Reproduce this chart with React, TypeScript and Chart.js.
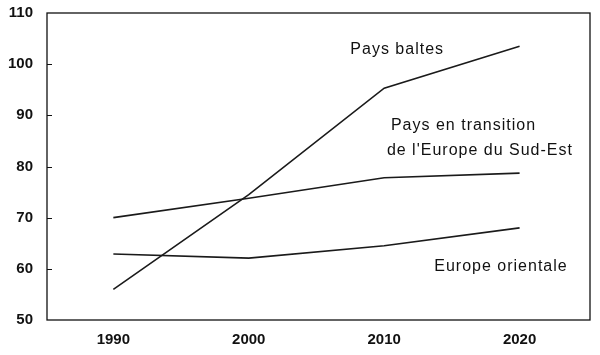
import React, { useEffect, useRef } from "react";
import { Chart, registerables } from "chart.js";

Chart.register(...registerables);

const years = [1990, 2000, 2010, 2020];
const paysBaltes = [56, 74.5, 95.3, 103.5];
const sudEst = [70, 73.8, 77.8, 78.7];
const europeOrientale = [62.9, 62.1, 64.5, 68];
const yTicks = [50, 60, 70, 80, 90, 100, 110];

// text labels placed in data coordinates: [text, x(year), y(value)]
const labelTexts = ["Pays baltes", "Pays en transition", "de l'Europe du Sud-Est", "Europe orientale"];
const labelX = [2007.5, 2010.5, 2010.2, 2013.7];
const labelY = [102.9, 87.9, 83.2, 60.4];

const FONT = "'Liberation Sans', Arial, Helvetica, sans-serif";

const decorPlugin = {
  id: "decor",
  afterDraw(chart: any) {
    const { ctx, chartArea, scales } = chart;
    const ys = scales.y;
    const xs = scales.x;
    ctx.save();
    ctx.strokeStyle = "#111";
    ctx.lineWidth = 1.3;
    ctx.strokeRect(chartArea.left, chartArea.top, chartArea.right - chartArea.left, chartArea.bottom - chartArea.top);
    // inward ticks
    ctx.lineWidth = 1;
    yTicks.forEach((v) => {
      if (v === 50 || v === 110) return;
      const py = Math.round(ys.getPixelForValue(v)) + 0.5;
      ctx.beginPath();
      ctx.moveTo(chartArea.left, py);
      ctx.lineTo(chartArea.left + 5, py);
      ctx.stroke();
    });
    // text labels
    ctx.fillStyle = "#111";
    ctx.font = `16px ${FONT}`;
    (ctx as any).letterSpacing = "1px";
    ctx.textBaseline = "middle";
    ctx.textAlign = "left";
    labelTexts.forEach((t, i) => {
      ctx.fillText(t, xs.getPixelForValue(labelX[i]), ys.getPixelForValue(labelY[i]));
    });
    (ctx as any).letterSpacing = "0px";
    ctx.restore();
  },
};

export default function App() {
  const ref = useRef<HTMLCanvasElement | null>(null);
  useEffect(() => {
    if (!ref.current) return;
    const mk = (data: number[]) => ({
      data: years.map((y, i) => ({ x: y, y: data[i] })),
      borderColor: "#1a1a1a",
      borderWidth: 1.6,
      pointRadius: 0,
      fill: false,
      tension: 0,
    });
    const chart = new Chart(ref.current, {
      type: "line",
      data: {
        datasets: [mk(paysBaltes), mk(sudEst), mk(europeOrientale)],
      },
      options: {
        animation: false,
        responsive: true,
        maintainAspectRatio: false,
        layout: { padding: { left: 0, right: 10, top: 13, bottom: 0 } },
        plugins: { legend: { display: false }, tooltip: { enabled: false } },
        scales: {
          x: {
            type: "linear",
            min: 1985.1,
            max: 2025.2,
            afterBuildTicks: (s: any) => {
              s.ticks = years.map((v) => ({ value: v }));
            },
            afterFit: (s: any) => {
              s.height = 35;
              s.paddingLeft = 0;
              s.paddingRight = 0;
            },
            grid: { display: false, drawTicks: false },
            border: { display: false },
            ticks: {
              color: "#111",
              font: { family: FONT, size: 15, weight: "bold" },
              padding: 11,
              maxRotation: 0,
              autoSkip: false,
              callback: (v: any) => String(v),
            },
          },
          y: {
            min: 50,
            max: 110,
            afterBuildTicks: (s: any) => {
              s.ticks = yTicks.map((v) => ({ value: v }));
            },
            afterFit: (s: any) => {
              s.width = 47;
              s.paddingTop = 0;
              s.paddingBottom = 0;
            },
            grid: { display: false, drawTicks: false },
            border: { display: false },
            ticks: {
              color: "#111",
              font: { family: FONT, size: 15, weight: "bold" },
              padding: 14,
            },
          },
        },
      },
      plugins: [decorPlugin],
    });
    return () => chart.destroy();
  }, []);
  return (
    <div style={{ position: "fixed", left: 0, top: 0, width: 600, height: 355, background: "#fff" }}>
      <canvas ref={ref} />
    </div>
  );
}
